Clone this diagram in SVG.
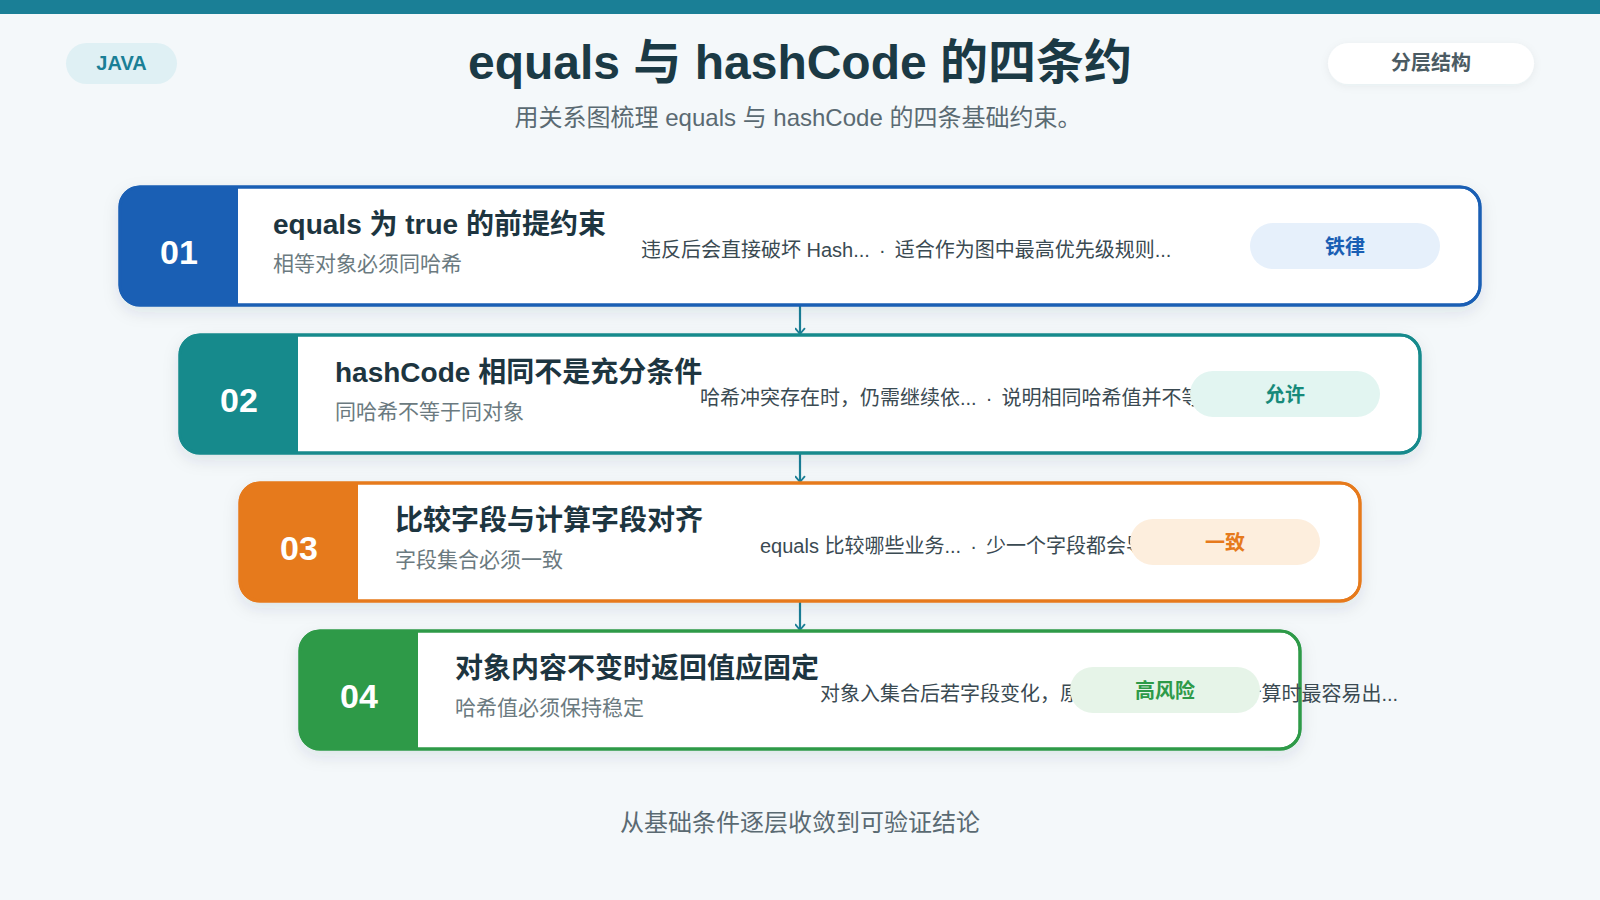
<svg xmlns="http://www.w3.org/2000/svg" width="1600" height="900" viewBox="0 0 1600 900">
<defs>
<filter id="sh" x="-10%" y="-30%" width="120%" height="170%">
<feDropShadow dx="0" dy="6" stdDeviation="8" flood-color="#1b3a45" flood-opacity="0.10"/>
</filter>
<filter id="shs" x="-20%" y="-50%" width="140%" height="200%">
<feDropShadow dx="0" dy="2" stdDeviation="4" flood-color="#1b3a45" flood-opacity="0.06"/>
</filter>
<marker id="arr" viewBox="0 0 10 12" refX="8" refY="6" markerWidth="9" markerHeight="11" orient="auto" markerUnits="userSpaceOnUse">
<path d="M2,1 L8,6 L2,11" fill="none" stroke="#1a7f96" stroke-width="2" stroke-linecap="round" stroke-linejoin="round"/>
</marker>
</defs>
<style>
text{font-family:"Liberation Sans","Noto Sans CJK SC",sans-serif}
.num{font-size:34px;font-weight:700;fill:#ffffff;text-anchor:middle}
.ttl{font-size:28px;font-weight:700;fill:#1d3540}
.sub{font-size:21px;fill:#6b7a80}
.det{font-size:20px;fill:#3a4a52}
.bdg{font-size:20px;font-weight:700;text-anchor:middle}
.card{fill:#ffffff;stroke-width:3}
.conn{stroke:#1a7f96;stroke-width:2.2;fill:none}
</style>
<rect x="0" y="0" width="1600" height="900" fill="#f4f8fa"/>
<rect x="0" y="0" width="1600" height="14" fill="#1a7f96"/>
<g id="header">
<rect x="66" y="43" width="111" height="41" rx="20.5" fill="#dff0f4"/>
<text x="121.5" y="70" font-size="20" font-weight="700" fill="#1a7f96" text-anchor="middle">JAVA</text>
<text x="800" y="79" font-size="48" font-weight="700" fill="#1b3a45" text-anchor="middle">equals 与 hashCode 的四条约</text>
<text x="798" y="126" font-size="24" fill="#5a6a72" text-anchor="middle">用关系图梳理 equals 与 hashCode 的四条基础约束。</text>
<rect x="1328" y="43" width="206" height="41" rx="20.5" fill="#ffffff" filter="url(#shs)"/>
<text x="1431" y="70" font-size="20" font-weight="700" fill="#4b5b63" text-anchor="middle">分层结构</text>
</g>
<g id="connectors">
<line class="conn" x1="800" y1="306" x2="800" y2="334" marker-end="url(#arr)"/>
<line class="conn" x1="800" y1="454" x2="800" y2="482" marker-end="url(#arr)"/>
<line class="conn" x1="800" y1="602" x2="800" y2="630" marker-end="url(#arr)"/>
</g>
<g id="node1">
<rect class="card" x="120" y="187" width="1360" height="118" rx="20" stroke="#1a5fb4" filter="url(#sh)"/>
<path d="M238,187 H140 A20,20 0 0 0 120,207 V285 A20,20 0 0 0 140,305 H238 Z" fill="#1a5fb4"/>
<rect x="120" y="187" width="1360" height="118" rx="20" fill="none" stroke="#1a5fb4" stroke-width="3"/>
<text class="num" x="179" y="264">01</text>
<text class="ttl" x="273" y="234">equals 为 true 的前提约束</text>
<text class="sub" x="273" y="271">相等对象必须同哈希</text>
<text class="det" x="641" y="257">违反后会直接破坏 Hash... <tspan dx="3.5">·</tspan> <tspan dx="3.5">适合作为图中最高优先级规则...</tspan></text>
<rect x="1250" y="223" width="190" height="46" rx="23" fill="#e6f0fb"/>
<text class="bdg" x="1345" y="254" fill="#1a5fb4">铁律</text>
</g>
<g id="node2">
<rect class="card" x="180" y="335" width="1240" height="118" rx="20" stroke="#168a8c" filter="url(#sh)"/>
<path d="M298,335 H200 A20,20 0 0 0 180,355 V433 A20,20 0 0 0 200,453 H298 Z" fill="#168a8c"/>
<text class="num" x="239" y="412">02</text>
<text class="ttl" x="335" y="382">hashCode 相同不是充分条件</text>
<text class="sub" x="335" y="419">同哈希不等于同对象</text>
<text class="det" x="700" y="405">哈希冲突存在时，仍需继续依... <tspan dx="3.5">·</tspan> <tspan dx="3.5">说明相同哈希值并不等于相等...</tspan></text>
<rect x="1190" y="371" width="190" height="46" rx="23" fill="#e2f5f1"/>
<text class="bdg" x="1285" y="402" fill="#168a7a">允许</text>
<rect x="180" y="335" width="1240" height="118" rx="20" fill="none" stroke="#168a8c" stroke-width="3"/>
</g>
<g id="node3">
<rect class="card" x="240" y="483" width="1120" height="118" rx="20" stroke="#e67a1c" filter="url(#sh)"/>
<path d="M358,483 H260 A20,20 0 0 0 240,503 V581 A20,20 0 0 0 260,601 H358 Z" fill="#e67a1c"/>
<text class="num" x="299" y="560">03</text>
<text class="ttl" x="395" y="530">比较字段与计算字段对齐</text>
<text class="sub" x="395" y="567">字段集合必须一致</text>
<text class="det" x="760" y="553">equals 比较哪些业务... <tspan dx="3.5">·</tspan> <tspan dx="3.5">少一个字段都会导致判断失衡...</tspan></text>
<rect x="1130" y="519" width="190" height="46" rx="23" fill="#fdeedd"/>
<text class="bdg" x="1225" y="550" fill="#e67a1c">一致</text>
<rect x="240" y="483" width="1120" height="118" rx="20" fill="none" stroke="#e67a1c" stroke-width="3"/>
</g>
<g id="node4">
<rect class="card" x="300" y="631" width="1000" height="118" rx="20" stroke="#2e9a48" filter="url(#sh)"/>
<path d="M418,631 H320 A20,20 0 0 0 300,651 V729 A20,20 0 0 0 320,749 H418 Z" fill="#2e9a48"/>
<rect x="300" y="631" width="1000" height="118" rx="20" fill="none" stroke="#2e9a48" stroke-width="3"/>
<text class="num" x="359" y="708">04</text>
<text class="ttl" x="455" y="678">对象内容不变时返回值应固定</text>
<text class="sub" x="455" y="715">哈希值必须保持稳定</text>
<text class="det" x="820" y="701">对象入集合后若字段变化，原... <tspan dx="3.5">·</tspan> <tspan dx="3.5">可变字段参与计算时最容易出...</tspan></text>
<rect x="1070" y="667" width="190" height="46" rx="23" fill="#e6f4e8"/>
<text class="bdg" x="1165" y="698" fill="#2e9a48">高风险</text>
</g>
<text x="800" y="831" font-size="24" fill="#5a6a72" text-anchor="middle">从基础条件逐层收敛到可验证结论</text>
</svg>
